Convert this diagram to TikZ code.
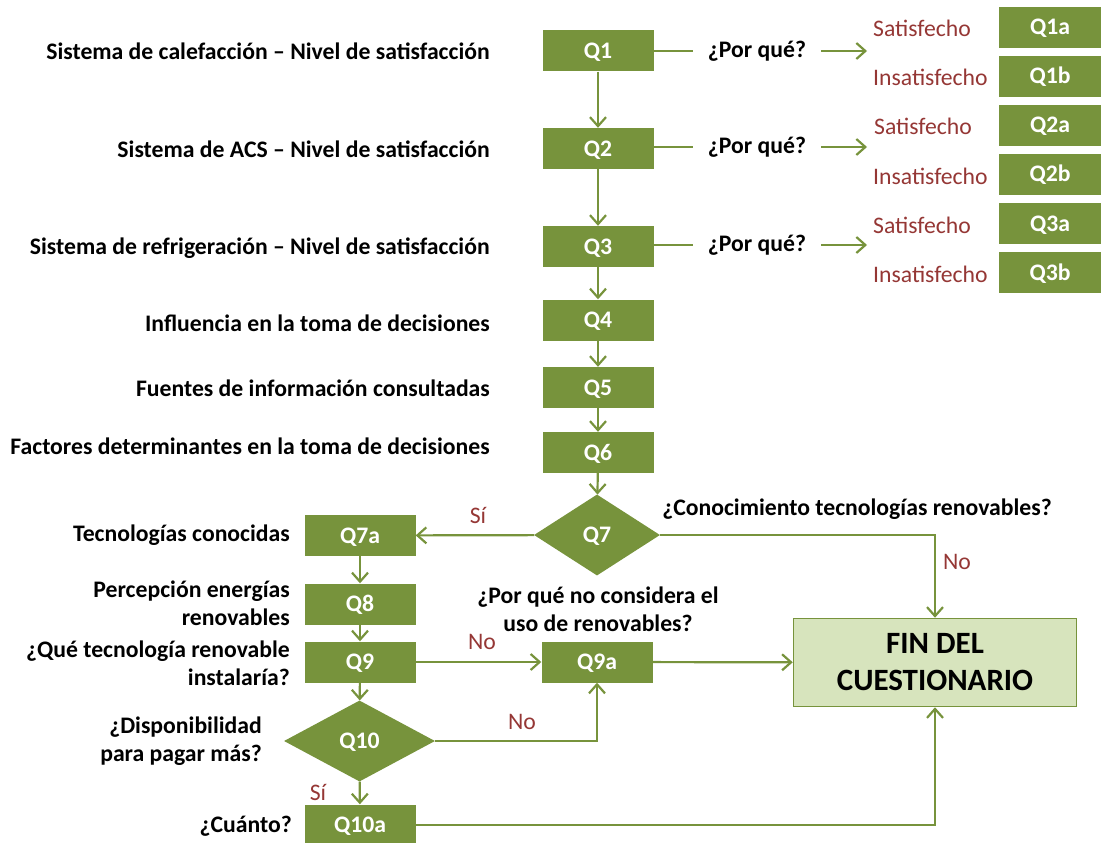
\documentclass[tikz,border=0pt]{standalone}
\usepackage{fontspec}
\setmainfont{Carlito}
\usepackage{xcolor}
\definecolor{qgreen}{RGB}{119,147,60}
\definecolor{qred}{RGB}{149,55,53}
\definecolor{qlight}{RGB}{215,228,189}
\usepackage{tikz}
\usetikzlibrary{arrows.meta, positioning, shapes.geometric}

\tikzset{
  qbox/.style={rectangle, fill=qgreen, text=white, minimum width=111pt, minimum height=41pt, inner sep=0pt,
    text height=15pt, text depth=0pt},
  sbox/.style={qbox, minimum width=102pt},
  qdiam/.style={diamond, fill=qgreen, text=white, inner sep=0pt, text height=15pt, text depth=0pt},
  lbl/.style={anchor=east, align=right, inner sep=0pt},
  ans/.style={text=qred, font=\fontsize{23.7}{28}\selectfont, inner sep=0pt},
  ln/.style={draw=qgreen, line width=2.2pt},
  arr/.style={ln, -{Straight Barb[length=9pt, width=16pt]}},
}

\begin{document}
\begin{tikzpicture}[x=1pt, y=-1pt, font=\fontsize{23.7}{28}\selectfont\bfseries]
  \useasboundingbox (0,0) rectangle (1101,843);

  % --- Main column ---
  \node[qbox] (q1) at (598,51)    {Q1};
  \node[qbox] (q2) at (598,148.5) {Q2};
  \node[qbox] (q3) at (598,246.5) {Q3};
  \node[qbox] (q4) at (598,320)   {Q4};
  \node[qbox] (q5) at (598,387.5) {Q5};
  \node[qbox] (q6) at (598,452.5) {Q6};
  \node[qdiam, minimum width=126pt, minimum height=81pt] (q7) at (597,535) {Q7};

  % Left labels
  \node[lbl] (l1) at (490,51)  {Sistema de calefacción -- Nivel de satisfacción};
  \node[lbl] (l2) at (490,149) {Sistema de ACS -- Nivel de satisfacción};
  \node[lbl] (l3) at (490,248) {Sistema de refrigeración -- Nivel de satisfacción};
  \node[lbl] (l4) at (490,323) {Influencia en la toma de decisiones};
  \node[lbl] (l5) at (490,388) {Fuentes de información consultadas};
  \node[lbl] (l6) at (490,446) {Factores determinantes en la toma de decisiones};

  % --- Por que branches ---
  \node[inner xsep=15pt, inner ysep=0pt] (pq1) at (757,51)  {¿Por qué?};
  \node[inner xsep=15pt, inner ysep=0pt] (pq2) at (757,147) {¿Por qué?};
  \node[inner xsep=15pt, inner ysep=0pt] (pq3) at (757,245) {¿Por qué?};
  \coordinate (pq1e) at (867,51);
  \coordinate (pq2e) at (867,147);
  \coordinate (pq3e) at (867,245);

  \node[ans, anchor=west] (s1) at (873,28)  {Satisfecho};
  \node[ans, anchor=west] (i1) at (873,77)  {Insatisfecho};
  \node[ans, anchor=west] (s2) at (874,126) {Satisfecho};
  \node[ans, anchor=west] (i2) at (873,176) {Insatisfecho};
  \node[ans, anchor=west] (s3) at (873,225) {Satisfecho};
  \node[ans, anchor=west] (i3) at (873,274) {Insatisfecho};

  \node[sbox] (q1a) at (1050,27.5)  {Q1a};
  \node[sbox] (q1b) at (1050,76.5)  {Q1b};
  \node[sbox] (q2a) at (1050,125)   {Q2a};
  \node[sbox] (q2b) at (1050,174)   {Q2b};
  \node[sbox] (q3a) at (1050,223.5) {Q3a};
  \node[sbox] (q3b) at (1050,272.5) {Q3b};

  % --- Lower left column ---
  \node[qbox] (q7a) at (360,535.5) {Q7a};
  \node[qbox] (q8)  at (360,604)   {Q8};
  \node[qbox] (q9)  at (360,662)   {Q9};
  \node[qdiam, minimum width=151pt, minimum height=81pt] (q10) at (359.5,741) {Q10};
  \node[qbox] (q10a) at (360,825)  {Q10a};
  \node[qbox] (q9a)  at (597,662)  {Q9a};

  \node[lbl] (l7a)  at (290,535) {Tecnologías conocidas};
  \node[lbl] (l8)   at (290,603) {Percepción energías\\renovables};
  \node[lbl] (l9)   at (290,663) {¿Qué tecnología renovable\\instalaría?};
  \node[lbl] (l10)  at (262,741) {¿Disponibilidad\\para pagar más?};
  \node[lbl] (l10a) at (292,826) {¿Cuánto?};

  \node[inner sep=0pt] (c7) at (857,509) {¿Conocimiento tecnologías renovables?};
  \node[inner sep=0pt, align=center] (c9a) at (598,609) {¿Por qué no considera el\\uso de renovables?};

  % End box
  \node[fill=qlight, draw=qgreen, line width=1.5pt, minimum width=283pt, minimum height=88pt,
        align=center, font=\fontsize{31}{37}\selectfont\bfseries] (fin) at (935,662.5) {FIN DEL\\CUESTIONARIO};

  % Yes / No labels
  \node[ans] (y7)  at (478,515) {Sí};
  \node[ans] (n7)  at (957,562) {No};
  \node[ans] (n9)  at (482,642) {No};
  \node[ans] (n10) at (522,722) {No};
  \node[ans] (y10) at (318,792) {Sí};

  % --- Connectors ---
  \draw[arr] (q1) -- (q2);
  \draw[arr] (q2) -- (q3);
  \draw[arr] (q3) -- (q4);
  \draw[arr] (q4) -- (q5);
  \draw[arr] (q5) -- (q6);
  \draw[arr] (q6) -- (q7);
  \draw[ln] (q1) -- (pq1);
  \draw[ln] (q2.east |- pq2) -- (pq2);
  \draw[ln] (q3.east |- pq3) -- (pq3);
  \draw[arr] (pq1) -- (pq1e);
  \draw[arr] (pq2) -- (pq2e);
  \draw[arr] (pq3) -- (pq3e);

  \draw[arr] (q7) -- (q7a);
  \draw[arr] (q7.east) -- (q7.east -| fin) -- (fin);
  \draw[arr] (q7a) -- (q8);
  \draw[arr] (q8) -- (q9);
  \draw[arr] (q9) -- (q10);
  \draw[arr] (q10) -- (q10a);
  \draw[arr] (q9) -- (q9a);
  \draw[arr] (q10.east) -- (q10.east -| q9a) -- (q9a);
  \draw[arr] (q9a) -- (fin);
  \draw[arr] (q10a.east) -- (q10a.east -| fin) -- (fin);
\end{tikzpicture}
\end{document}
